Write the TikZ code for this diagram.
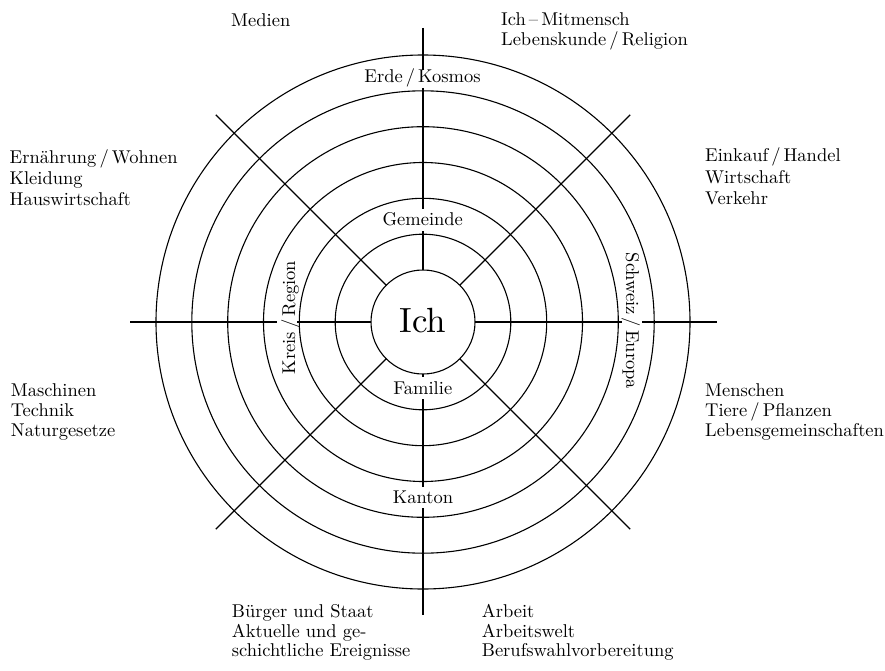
\documentclass[tikz,border=0pt]{standalone}
\usepackage{fontspec}
\setmainfont{lmroman10-regular}[Extension=.otf]
\usetikzlibrary{calc}
\begin{document}
\begin{tikzpicture}[x=1pt,y=-1pt,
  ring/.style={line width=1.1pt},
  spoke/.style={line width=1.1pt},
  outer/.style={font=\fontsize{18.5}{20}\selectfont, inner sep=0pt, anchor=base west},
  ringlab/.style={font=\fontsize{18.5}{20}\selectfont, inner sep=0pt, anchor=base},
]
\useasboundingbox (0,0) rectangle (885,671);
\coordinate (C) at (423,322);
% circles
\foreach \r in {52,87.8,123.7,159.5,195.3,231.2,267}
  \draw[ring] (C) circle[radius=\r];
% diagonals
\foreach \a in {45,135,225,315}
  \draw[spoke] ($(C)+(\a:52)$) -- ($(C)+(\a:293)$);
% vertical axis (with gaps for labels)
\draw[spoke] ($(C)+(0,-294)$) -- ($(C)+(0,-252)$);
\draw[spoke] ($(C)+(0,-234)$) -- ($(C)+(0,-113)$);
\draw[spoke] ($(C)+(0,-91)$) -- ($(C)+(0,-52)$);
\draw[spoke] ($(C)+(0,52)$) -- ($(C)+(0,55)$);
\draw[spoke] ($(C)+(0,77)$) -- ($(C)+(0,165)$);
\draw[spoke] ($(C)+(0,186)$) -- ($(C)+(0,293)$);
% horizontal axis (with gaps for labels)
\draw[spoke] ($(C)+(-293,0)$) -- ($(C)+(-146,0)$);
\draw[spoke] ($(C)+(-126,0)$) -- ($(C)+(-52,0)$);
\draw[spoke] ($(C)+(52,0)$) -- ($(C)+(199,0)$);
\draw[spoke] ($(C)+(219,0)$) -- ($(C)+(294,0)$);
% ring labels
\node[font=\fontsize{35}{40}\selectfont, inner sep=0pt, anchor=base] (ich) at (422.7,332.3) {Ich};
\node[ringlab] (erde) at (422.5,82.5) {Erde\,/\,Kosmos};
\node[ringlab] (gemeinde) at (422.8,225) {Gemeinde};
\node[ringlab] (familie) at (422.8,394) {Familie};
\node[ringlab] (kanton) at (423,503.3) {Kanton};
\node[ringlab, rotate=90] (kreis) at (295,317.5) {Kreis\,/\,Region};
\node[ringlab, rotate=-90] (schweiz) at (626,321) {Schweiz\,/\,Europa};
% outer labels
\node[outer] (medien) at (231,26.7) {Medien};
\node[outer] (ich1) at (501,26) {Ich\,--\,Mitmensch};
\node[outer] (ich2) at (501,46) {Lebenskunde\,/\,Religion};
\node[outer] (ern1) at (9.5,164) {Ernährung\,/\,Wohnen};
\node[outer] (ern2) at (9.5,185) {Kleidung};
\node[outer] (ern3) at (9.5,205.5) {Hauswirtschaft};
\node[outer] (ein1) at (705,161) {Einkauf\,/\,Handel};
\node[outer] (ein2) at (705,183) {Wirtschaft};
\node[outer] (ein3) at (705,204.3) {Verkehr};
\node[outer] (men1) at (705,396) {Menschen};
\node[outer] (men2) at (705,416.3) {Tiere\,/\,Pflanzen};
\node[outer] (men3) at (705,436) {Lebensgemeinschaften};
\node[outer] (mas1) at (10.7,396.7) {Maschinen};
\node[outer] (mas2) at (10.7,416.7) {Technik};
\node[outer] (mas3) at (10.7,436.7) {Naturgesetze};
\node[outer] (bur1) at (231.7,617.7) {Bürger und Staat};
\node[outer] (bur2) at (231.7,637.3) {Aktuelle und ge-};
\node[outer] (bur3) at (231.7,656.7) {schichtliche Ereignisse};
\node[outer] (arb1) at (481.7,617.7) {Arbeit};
\node[outer] (arb2) at (481.7,637.3) {Arbeitswelt};
\node[outer] (arb3) at (481.7,656.7) {Berufswahlvorbereitung};
\end{tikzpicture}
\end{document}
